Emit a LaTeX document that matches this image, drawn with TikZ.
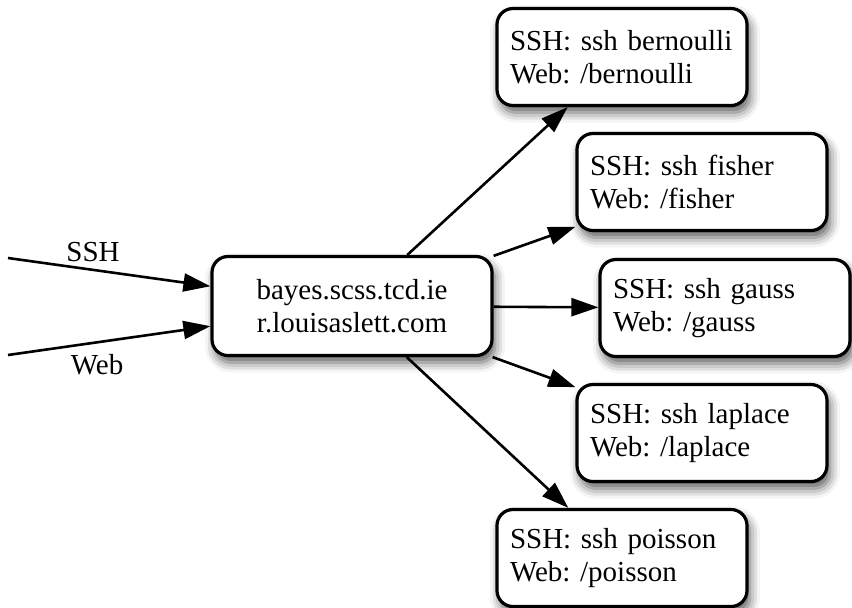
\documentclass[tikz,border=0pt]{standalone}
\usepackage{fontspec}
\setmainfont{Liberation Serif}
\usetikzlibrary{arrows.meta}
\usetikzlibrary{shadows.blur}

\tikzset{
 box/.style={draw=black, line width=1.6pt, rounded corners=8pt, fill=white,
   blur shadow={shadow xshift=1.5pt, shadow yshift=-3.5pt, shadow blur radius=5pt, shadow opacity=65}},
 hubbox/.style={box, minimum width=140pt, minimum height=49.5pt, align=center},
 host/.style={box, text width=112pt, inner xsep=6.5pt, minimum height=48.5pt, align=left},
 link/.style={line width=1.3pt, -{Triangle[length=13.5pt,width=9pt]}}
}

\begin{document}
\begin{tikzpicture}[x=0.5pt, y=-0.5pt, font=\fontsize{14.5}{16.5}\selectfont\frenchspacing]
\useasboundingbox (0,0) rectangle (852,607);
\node[hubbox] (hub) at (352,306) {bayes.scss.tcd.ie\\r.louisaslett.com};
\coordinate (sshin) at (8,258);
\coordinate (webin) at (8,355);
\draw[link] (sshin) -- (hub) node[pos=.42, above] (sshlbl) {SSH};
\draw[link] (webin) -- (hub) node[pos=.44, below, yshift=-2pt] (weblbl) {Web};
\foreach \nm/\x/\y in {bernoulli/622/57, fisher/702/182, gauss/725/308, laplace/702/433, poisson/622/558} {
 \node[host] (\nm) at (\x,\y) {SSH: ssh \nm\\Web: /\nm};
 \draw[link] (hub) -- (\nm);
}
\end{tikzpicture}
\end{document}
